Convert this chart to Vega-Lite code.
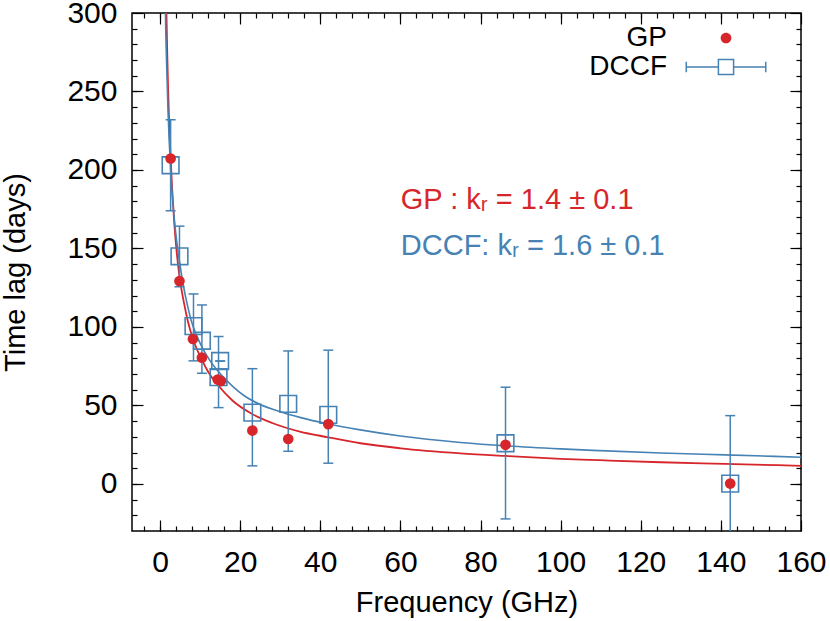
{
  "$schema": "https://vega.github.io/schema/vega-lite/v6.json",
  "width": 669,
  "height": 518,
  "autosize": {"type": "none"},
  "padding": {"left": 132, "top": 13, "right": 29, "bottom": 90},
  "background": "white",
  "config": {
    "view": {"stroke": "black", "strokeWidth": 1.5},
    "font": "Liberation Sans",
    "axis": {
      "grid": false, "domain": false, "tickColor": "black", "tickWidth": 1.2,
      "labelFont": "Liberation Sans", "labelFontSize": 30, "labelColor": "black",
      "titleFont": "Liberation Sans", "titleFontSize": 29, "titleFontWeight": "normal", "titleColor": "black",
      "labelFlush": false, "labelOverlap": false
    }
  },
  "datasets": {
    "curves": [
      {"series": "GP", "freq": 1.5, "lag": 311}, {"series": "GP", "freq": 1.6, "lag": 300}, {"series": "GP", "freq": 1.8, "lag": 274},
      {"series": "GP", "freq": 2.0, "lag": 253}, {"series": "GP", "freq": 2.3, "lag": 228}, {"series": "GP", "freq": 2.64, "lag": 208},
      {"series": "GP", "freq": 3.0, "lag": 189}, {"series": "GP", "freq": 3.5, "lag": 168}, {"series": "GP", "freq": 4.0, "lag": 152},
      {"series": "GP", "freq": 4.85, "lag": 132}, {"series": "GP", "freq": 6, "lag": 115}, {"series": "GP", "freq": 7, "lag": 103},
      {"series": "GP", "freq": 8.2, "lag": 92.5}, {"series": "GP", "freq": 10.45, "lag": 79}, {"series": "GP", "freq": 12, "lag": 71.5},
      {"series": "GP", "freq": 14.6, "lag": 62.5}, {"series": "GP", "freq": 18, "lag": 53.3}, {"series": "GP", "freq": 23, "lag": 44.5},
      {"series": "GP", "freq": 28, "lag": 38.8}, {"series": "GP", "freq": 34.9, "lag": 33.3}, {"series": "GP", "freq": 42, "lag": 29.7},
      {"series": "GP", "freq": 50, "lag": 25.9}, {"series": "GP", "freq": 60, "lag": 22.7}, {"series": "GP", "freq": 75, "lag": 19.5},
      {"series": "GP", "freq": 86.3, "lag": 17.8}, {"series": "GP", "freq": 100, "lag": 16.0}, {"series": "GP", "freq": 109.8, "lag": 15.1},
      {"series": "GP", "freq": 125, "lag": 13.8}, {"series": "GP", "freq": 141, "lag": 12.8}, {"series": "GP", "freq": 160, "lag": 11.5},
      {"series": "DCCF", "freq": 1.3, "lag": 310}, {"series": "DCCF", "freq": 1.35, "lag": 300}, {"series": "DCCF", "freq": 1.6, "lag": 271},
      {"series": "DCCF", "freq": 2.0, "lag": 237}, {"series": "DCCF", "freq": 2.3, "lag": 218}, {"series": "DCCF", "freq": 2.64, "lag": 200},
      {"series": "DCCF", "freq": 3.0, "lag": 186}, {"series": "DCCF", "freq": 3.5, "lag": 170.5}, {"series": "DCCF", "freq": 4.0, "lag": 158},
      {"series": "DCCF", "freq": 4.85, "lag": 142}, {"series": "DCCF", "freq": 6, "lag": 124}, {"series": "DCCF", "freq": 7, "lag": 112},
      {"series": "DCCF", "freq": 7.8, "lag": 104}, {"series": "DCCF", "freq": 9, "lag": 95.4}, {"series": "DCCF", "freq": 10.5, "lag": 87},
      {"series": "DCCF", "freq": 12.5, "lag": 78.4}, {"series": "DCCF", "freq": 15.1, "lag": 70}, {"series": "DCCF", "freq": 18, "lag": 62.5},
      {"series": "DCCF", "freq": 21.1, "lag": 56}, {"series": "DCCF", "freq": 25, "lag": 50.6}, {"series": "DCCF", "freq": 30, "lag": 46},
      {"series": "DCCF", "freq": 34.9, "lag": 42.4}, {"series": "DCCF", "freq": 42, "lag": 38.2}, {"series": "DCCF", "freq": 50, "lag": 34.4},
      {"series": "DCCF", "freq": 60, "lag": 30.5}, {"series": "DCCF", "freq": 75, "lag": 26.4}, {"series": "DCCF", "freq": 86.3, "lag": 24.2},
      {"series": "DCCF", "freq": 100, "lag": 22.3}, {"series": "DCCF", "freq": 109.8, "lag": 21.2}, {"series": "DCCF", "freq": 125, "lag": 19.7},
      {"series": "DCCF", "freq": 141, "lag": 18.5}, {"series": "DCCF", "freq": 160, "lag": 17}
    ],
    "dccf": [
      {"freq": 2.64, "lag": 203, "lo": 174, "hi": 232},
      {"freq": 4.85, "lag": 145, "lo": 125.6, "hi": 164.2},
      {"freq": 8.35, "lag": 100.5, "lo": 78.4, "hi": 121},
      {"freq": 10.45, "lag": 91.2, "lo": 70.5, "hi": 114},
      {"freq": 14.6, "lag": 68, "lo": 48.6, "hi": 93.9},
      {"freq": 15.0, "lag": 78.3, "lo": 78.3, "hi": 78.3},
      {"freq": 23.05, "lag": 45.4, "lo": 11.5, "hi": 73.4},
      {"freq": 32.0, "lag": 51, "lo": 20.8, "hi": 84.7},
      {"freq": 42.0, "lag": 44, "lo": 13.2, "hi": 85.2},
      {"freq": 86.24, "lag": 25.9, "lo": -22.3, "hi": 61.6},
      {"freq": 142.33, "lag": 0.2, "lo": -43.5, "hi": 43.5}
    ],
    "gp": [
      {"freq": 2.64, "lag": 207.3}, {"freq": 4.85, "lag": 129.2}, {"freq": 8.2, "lag": 92.3},
      {"freq": 10.45, "lag": 80.4}, {"freq": 14.4, "lag": 66.5}, {"freq": 15.2, "lag": 65.5},
      {"freq": 23.05, "lag": 34}, {"freq": 32.0, "lag": 28.6}, {"freq": 42.0, "lag": 38.1},
      {"freq": 86.24, "lag": 24.9}, {"freq": 142.33, "lag": 0.2}
    ],
    "notes": [
      {"series": "GP", "label": "GP : kᵣ = 1.4 ± 0.1", "freq": 60.1, "lag": 175},
      {"series": "DCCF", "label": "DCCF: kᵣ = 1.6 ± 0.1", "freq": 60.1, "lag": 146}
    ],
    "keys": [
      {"series": "GP"}, {"series": "DCCF"}
    ]
  },
  "resolve": {"axis": {"x": "independent", "y": "independent"}},
  "layer": [
    {
      "data": {"name": "curves"},
      "transform": [{"filter": "datum.series === 'GP'"}],
      "mark": {"type": "line", "strokeWidth": 1.8, "clip": true, "interpolate": "monotone", "color": "#d7262b"},
      "encoding": {
        "x": {"field": "freq", "type": "quantitative", "scale": {"domain": [-7, 160], "nice": false, "zero": false},
              "axis": {"orient": "bottom", "values": [0, 20, 40, 60, 80, 100, 120, 140, 160], "ticks": false, "labelPadding": 16, "title": "Frequency (GHz)", "titlePadding": 11}},
        "y": {"field": "lag", "type": "quantitative", "scale": {"domain": [-30, 300], "nice": false, "zero": false},
              "axis": {"orient": "left", "values": [0, 50, 100, 150, 200, 250, 300], "ticks": false, "labelPadding": 15, "title": "Time lag (days)", "titlePadding": 36}}
      }
    },
    {
      "data": {"name": "curves"},
      "transform": [{"filter": "datum.series === 'DCCF'"}],
      "mark": {"type": "line", "strokeWidth": 1.6, "clip": true, "interpolate": "monotone", "color": "#4682b4"},
      "encoding": {
        "x": {"field": "freq", "type": "quantitative", "scale": {"domain": [-7, 160], "nice": false, "zero": false}, "axis": null},
        "y": {"field": "lag", "type": "quantitative", "scale": {"domain": [-30, 300], "nice": false, "zero": false}, "axis": null}
      }
    },
    {
      "data": {"name": "dccf"},
      "mark": {"type": "rule", "color": "#4682b4", "strokeWidth": 1.5, "clip": true},
      "encoding": {
        "x": {"field": "freq", "type": "quantitative", "scale": {"domain": [-7, 160], "nice": false, "zero": false},
              "axis": {"orient": "bottom", "values": [0, 20, 40, 60, 80, 100, 120, 140, 160], "labels": false, "tickSize": -11, "title": null}},
        "y": {"field": "lo", "type": "quantitative", "scale": {"domain": [-30, 300], "nice": false, "zero": false},
              "axis": {"orient": "left", "values": [0, 50, 100, 150, 200, 250, 300], "labels": false, "tickSize": -11, "title": null}},
        "y2": {"field": "hi"}
      }
    },
    {
      "data": {"name": "dccf"},
      "mark": {"type": "tick", "orient": "horizontal", "color": "#4682b4", "size": 10, "thickness": 1.5, "opacity": 1, "clip": true},
      "encoding": {
        "x": {"field": "freq", "type": "quantitative", "scale": {"domain": [-7, 160], "nice": false, "zero": false},
              "axis": {"orient": "bottom", "values": [-4,0,4,8,12,16,20,24,28,32,36,40,44,48,52,56,60,64,68,72,76,80,84,88,92,96,100,104,108,112,116,120,124,128,132,136,140,144,148,152,156], "labels": false, "tickSize": -5, "title": null}},
        "y": {"field": "lo", "type": "quantitative", "scale": {"domain": [-30, 300], "nice": false, "zero": false},
              "axis": {"orient": "left", "values": [-20,-10,0,10,20,30,40,50,60,70,80,90,100,110,120,130,140,150,160,170,180,190,200,210,220,230,240,250,260,270,280,290], "labels": false, "tickSize": -5, "title": null}}
      }
    },
    {
      "data": {"name": "dccf"},
      "mark": {"type": "tick", "orient": "horizontal", "color": "#4682b4", "size": 10, "thickness": 1.5, "opacity": 1, "clip": true},
      "encoding": {
        "x": {"field": "freq", "type": "quantitative", "scale": {"domain": [-7, 160], "nice": false, "zero": false},
              "axis": {"orient": "top", "values": [0, 20, 40, 60, 80, 100, 120, 140, 160], "labels": false, "tickSize": -11, "title": null}},
        "y": {"field": "hi", "type": "quantitative", "scale": {"domain": [-30, 300], "nice": false, "zero": false},
              "axis": {"orient": "right", "values": [0, 50, 100, 150, 200, 250, 300], "labels": false, "tickSize": -11, "title": null}}
      }
    },
    {
      "data": {"name": "dccf"},
      "mark": {"type": "point", "shape": "square", "filled": false, "color": "#4682b4", "size": 279, "strokeWidth": 1.6, "opacity": 1},
      "encoding": {
        "x": {"field": "freq", "type": "quantitative", "scale": {"domain": [-7, 160], "nice": false, "zero": false},
              "axis": {"orient": "top", "values": [-4,0,4,8,12,16,20,24,28,32,36,40,44,48,52,56,60,64,68,72,76,80,84,88,92,96,100,104,108,112,116,120,124,128,132,136,140,144,148,152,156], "labels": false, "tickSize": -5, "title": null}},
        "y": {"field": "lag", "type": "quantitative", "scale": {"domain": [-30, 300], "nice": false, "zero": false},
              "axis": {"orient": "right", "values": [-20,-10,0,10,20,30,40,50,60,70,80,90,100,110,120,130,140,150,160,170,180,190,200,210,220,230,240,250,260,270,280,290], "labels": false, "tickSize": -5, "title": null}}
      }
    },
    {
      "data": {"name": "gp"},
      "mark": {"type": "point", "shape": "circle", "filled": true, "color": "#d7262b", "size": 114, "opacity": 1},
      "encoding": {
        "x": {"field": "freq", "type": "quantitative", "scale": {"domain": [-7, 160], "nice": false, "zero": false}, "axis": null},
        "y": {"field": "lag", "type": "quantitative", "scale": {"domain": [-30, 300], "nice": false, "zero": false}, "axis": null}
      }
    },
    {
      "data": {"name": "notes"},
      "transform": [{"filter": "datum.series === 'GP'"}],
      "mark": {"type": "text", "align": "left", "baseline": "alphabetic", "fontSize": 29, "font": "Liberation Sans", "color": "#d7262b"},
      "encoding": {
        "x": {"field": "freq", "type": "quantitative", "scale": {"domain": [-7, 160], "nice": false, "zero": false}, "axis": null},
        "y": {"field": "lag", "type": "quantitative", "scale": {"domain": [-30, 300], "nice": false, "zero": false}, "axis": null},
        "text": {"field": "label"}
      }
    },
    {
      "data": {"name": "notes"},
      "transform": [{"filter": "datum.series === 'DCCF'"}],
      "mark": {"type": "text", "align": "left", "baseline": "alphabetic", "fontSize": 29, "font": "Liberation Sans", "color": "#4682b4"},
      "encoding": {
        "x": {"field": "freq", "type": "quantitative", "scale": {"domain": [-7, 160], "nice": false, "zero": false}, "axis": null},
        "y": {"field": "lag", "type": "quantitative", "scale": {"domain": [-30, 300], "nice": false, "zero": false}, "axis": null},
        "text": {"field": "label"}
      }
    },
    {
      "data": {"name": "keys"},
      "mark": {"type": "point", "filled": true, "opacity": 0},
      "encoding": {
        "color": {"field": "series", "type": "nominal", "scale": {"domain": ["GP", "DCCF"], "range": ["#d7262b", "#4682b4"]},
                  "legend": {"title": null, "orient": "none", "legendX": 580, "legendY": 11, "symbolSize": 729, "symbolStrokeWidth": 0, "symbolOpacity": 1, "labelAlign": "right", "labelOffset": -73, "labelFontSize": 28, "labelFont": "Liberation Sans", "labelColor": "black", "labelLimit": 300, "rowPadding": 1, "padding": 0}},
        "shape": {"field": "series", "type": "nominal",
                  "scale": {"domain": ["GP", "DCCF"], "range": [
                    "M0.396,0A0.396,0.396,0,1,1,-0.396,0A0.396,0.396,0,1,1,0.396,0Z",
                    "M-3,-0.396H-2.889V0.396H-3ZM2.889,-0.396H3V0.396H2.889ZM-2.889,-0.0556H-0.618V0.0556H-2.889ZM0.618,-0.0556H2.889V0.0556H0.618ZM-0.618,-0.618H0.618V0.618H-0.618ZM-0.507,-0.507V0.507H0.507V-0.507Z"]},
                  "legend": {"title": null, "orient": "none", "legendX": 580, "legendY": 11, "symbolSize": 729, "symbolStrokeWidth": 0, "symbolOpacity": 1, "labelAlign": "right", "labelOffset": -73, "labelFontSize": 28, "labelFont": "Liberation Sans", "labelColor": "black", "labelLimit": 300, "rowPadding": 1, "padding": 0}}
      }
    }
  ]
}
